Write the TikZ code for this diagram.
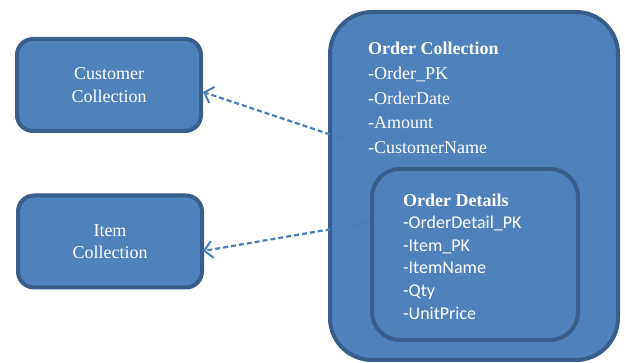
\documentclass[tikz,border=0pt]{standalone}
\usepackage{fontspec}
\setmainfont{Liberation Serif}
\newfontfamily\calfont{Carlito}
\usetikzlibrary{arrows.meta,calc}
\definecolor{boxfill}{HTML}{4F81BD}
\definecolor{boxline}{HTML}{385D8A}
\definecolor{arrowc}{HTML}{4A7EBB}
\begin{document}
\begin{tikzpicture}[x=1pt,y=-1pt,
  coll/.style={draw=boxline,fill=boxfill,line width=4pt,rounded corners=16pt,
    text=white,align=center,font=\fontsize{18}{22.5}\selectfont,
    minimum width=184pt,minimum height=92pt,inner sep=0pt},
  container/.style={draw=boxline,fill=boxfill,line width=4pt,inner sep=0pt},
  txt/.style={text=white,anchor=base west,inner sep=0pt,font=\fontsize{18}{22}\selectfont},
  ctxt/.style={txt,font=\calfont\fontsize{18}{22}\selectfont},
  link/.style={draw=arrowc,line width=2.2pt,dash pattern=on 5pt off 3pt,
    -{Straight Barb[length=8pt,width=17pt,line width=2pt]}}
]
\useasboundingbox (0,0) rectangle (625,363);
% boxes
\node[coll] (cust) at (109,85) {Customer\\Collection};
\node[coll] (item) at (110,241.5) {Item\\Collection};
\node[container,rounded corners=42pt,minimum width=288pt,minimum height=348pt] (order) at (474,186) {};
\node[container,rounded corners=28pt,minimum width=206pt,minimum height=171pt] (details) at (475,254.5) {};
% order collection text
\node[txt,font=\bfseries\fontsize{18}{22}\selectfont] (oc0) at (368,55) {Order Collection};
\node[txt] (oc1) at (368,80) {-Order\_PK};
\node[txt] (oc2) at (368,104.5) {-OrderDate};
\node[txt] (oc3) at (368,129) {-Amount};
\node[txt] (oc4) at (368,154) {-CustomerName};
% order details text
\node[txt,font=\bfseries\fontsize{18}{22}\selectfont] (od0) at (403,207) {Order Details};
\node[ctxt] (od1) at (403,228.5) {-OrderDetail\_PK};
\node[ctxt] (od2) at (403,251.5) {-Item\_PK};
\node[ctxt] (od3) at (403,274) {-ItemName};
\node[ctxt] (od4) at (403,297) {-Qty};
\node[ctxt] (od5) at (403,319.5) {-UnitPrice};
% connectors
\coordinate (custsrc) at ($(oc4.west)+(0,-1)$);
\coordinate (itemsrc) at ($(details.west)+(0,-32)$);
\draw[link] (custsrc) -- ($(cust.east)+(0,7)$);
\draw[link] (itemsrc) -- ($(item.east)+(-1,9.5)$);
\end{tikzpicture}
\end{document}
